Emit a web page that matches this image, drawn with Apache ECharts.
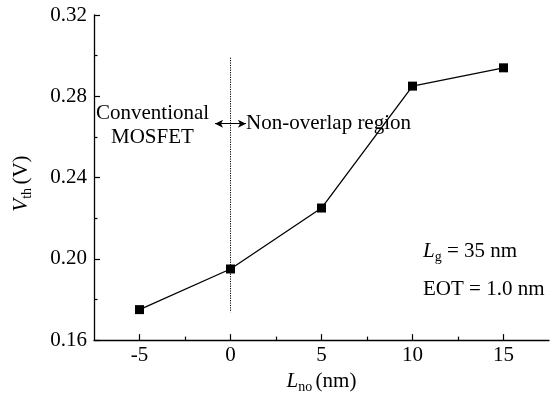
<!DOCTYPE html>
<html><head><meta charset="utf-8">
<script src="https://cdn.jsdelivr.net/npm/echarts@6/dist/echarts.min.js"></script>
<style>html,body{margin:0;padding:0;background:#fff}#c{width:555px;height:399px}</style>
</head><body><div id="c"></div>
<script>
const xValues = [-5, 0, 5, 10, 15];
const vth = [0.175, 0.195, 0.225, 0.285, 0.294];
const xMajorTicks = [-5, 0, 5, 10, 15];
const xMinorTicks = [-2.5, 2.5, 7.5, 12.5];
const yMajorTicks = [0.16, 0.20, 0.24, 0.28, 0.32];
const yMinorTicks = [0.18, 0.22, 0.26, 0.30];
const dividerLine = [[0, 0.299], [0, 0.1737]];
const arrowLine = [[-0.85, 0.2665], [0.85, 0.2665]];

const font = 'Liberation Serif';
const FS = 21;
const chart = echarts.init(document.getElementById('c'));
const axBase = {
  axisLine: {show: true, onZero: false, lineStyle: {color: '#000', width: 1.3}},
  splitLine: {show: false}
};
const rich = {
  i: {fontFamily: font, fontStyle: 'italic', fontSize: FS, color: '#000'},
  s: {fontFamily: font, fontSize: 14, color: '#000', padding: [11, 0, 0, 0]},
  n: {fontFamily: font, fontSize: FS, color: '#000'}
};
chart.setOption({
  animation: false,
  grid: {left: 94, top: 15, right: 6, bottom: 58, containLabel: false},
  xAxis: [
    Object.assign({}, axBase, {
      type: 'value', min: -7.5, max: 17.5, interval: 2.5,
      axisTick: {inside: true, length: 6, customValues: xMajorTicks, lineStyle: {color: '#000', width: 1.2}},
      axisLabel: {customValues: xMajorTicks, color: '#000', fontFamily: font, fontSize: FS, margin: 5,
        formatter: v => String(v)},
      name: '{i|L}{s|no} {n|(nm)}', nameLocation: 'middle', nameGap: 26,
      nameTextStyle: {rich: rich}
    }),
    Object.assign({}, axBase, {
      type: 'value', min: -7.5, max: 17.5, interval: 2.5,
      axisLine: {show: false, onZero: false},
      axisTick: {inside: true, length: 3.5, customValues: xMinorTicks, lineStyle: {color: '#000', width: 1.2}},
      axisLabel: {show: false}, position: 'bottom'
    })
  ],
  yAxis: [
    Object.assign({}, axBase, {
      type: 'value', min: 0.16, max: 0.32, interval: 0.02,
      axisTick: {inside: true, length: 6, customValues: yMajorTicks, lineStyle: {color: '#000', width: 1.2}},
      axisLabel: {customValues: yMajorTicks, color: '#000', fontFamily: font, fontSize: FS, margin: 7,
        formatter: v => v.toFixed(2)},
      name: '{i|V}{s|th} {n|(V)}', nameLocation: 'middle', nameGap: 60,
      nameTextStyle: {rich: rich, padding: [0, 12, 0, 0]}
    }),
    Object.assign({}, axBase, {
      type: 'value', min: 0.16, max: 0.32, interval: 0.02,
      axisLine: {show: false, onZero: false}, position: 'left',
      axisTick: {inside: true, length: 3.5, customValues: yMinorTicks, lineStyle: {color: '#000', width: 1.2}},
      axisLabel: {show: false}
    })
  ],
  series: [
    {
      type: 'line', xAxisIndex: 0, yAxisIndex: 0,
      data: dividerLine, symbol: 'none',
      lineStyle: {color: '#000', width: 1, type: [1.2, 1.2]},
      z: 1
    },
    {
      type: 'line', xAxisIndex: 0, yAxisIndex: 0,
      data: arrowLine, symbol: 'none',
      lineStyle: {color: '#000', width: 1, opacity: 0},
      markLine: {
        silent: true, symbol: ['arrow', 'arrow'], symbolSize: [6, 8],
        lineStyle: {color: '#000', width: 1, type: 'solid'}, label: {show: false},
        data: [[{coord: arrowLine[0]}, {coord: arrowLine[1]}]]
      },
      z: 1
    },
    {
      type: 'line', xAxisIndex: 0, yAxisIndex: 0,
      data: xValues.map((x, i) => [x, vth[i]]),
      symbol: 'rect', symbolSize: 9,
      itemStyle: {color: '#000'},
      lineStyle: {color: '#000', width: 1.3},
      z: 3
    }
  ],
  graphic: [
    {type: 'text', left: 96, top: 103, style: {text: 'Conventional', font: FS + 'px "Liberation Serif"', fill: '#000'}},
    {type: 'text', left: 111, top: 127, style: {text: 'MOSFET', font: FS + 'px "Liberation Serif"', fill: '#000'}},
    {type: 'text', left: 246, top: 113, style: {text: 'Non-overlap region', font: FS + 'px "Liberation Serif"', fill: '#000'}},
    {type: 'text', left: 423, top: 241, style: {
      text: '{i|L}{s|g}{n| = 35 nm}',
      rich: {
        i: {fontFamily: font, fontStyle: 'italic', fontSize: FS, fill: '#000'},
        s: {fontFamily: font, fontSize: 14, fill: '#000', padding: [11, 0, 0, 0]},
        n: {fontFamily: font, fontSize: FS, fill: '#000'}
      }}},
    {type: 'text', left: 423, top: 279, style: {text: 'EOT = 1.0 nm', font: FS + 'px "Liberation Serif"', fill: '#000'}}
  ]
});
</script></body></html>
